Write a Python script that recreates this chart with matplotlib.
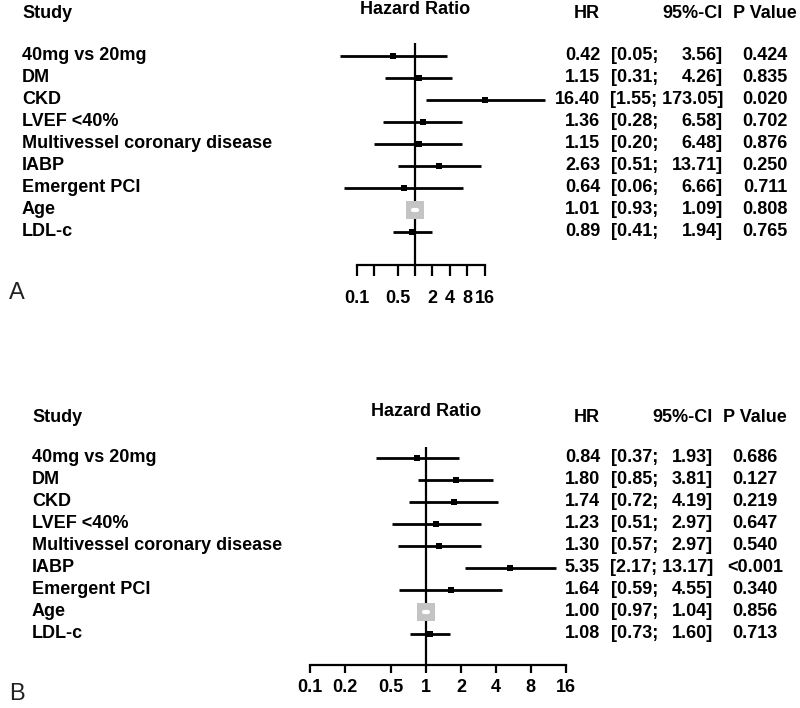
"""
Two forest plots (panel A / panel B): hazard ratios with 95% CI and p values.
"""
import matplotlib
matplotlib.use("Agg")
import matplotlib.pyplot as plt
import matplotlib.transforms as mtrans
import numpy as np

plt.rcParams["font.family"] = ["Liberation Sans", "DejaVu Sans"]

STUDIES = [
    "40mg vs 20mg",
    "DM",
    "CKD",
    "LVEF <40%",
    "Multivessel coronary disease",
    "IABP",
    "Emergent PCI",
    "Age",
    "LDL-c",
]

# panel A
HR_A = [0.42, 1.15, 16.40, 1.36, 1.15, 2.63, 0.64, 1.01, 0.89]
LO_A = [0.05, 0.31, 1.55, 0.28, 0.20, 0.51, 0.06, 0.93, 0.41]
HI_A = [3.56, 4.26, 173.05, 6.58, 6.48, 13.71, 6.66, 1.09, 1.94]
P_A = ["0.424", "0.835", "0.020", "0.702", "0.876", "0.250", "0.711", "0.808", "0.765"]

# panel B
HR_B = [0.84, 1.80, 1.74, 1.23, 1.30, 5.35, 1.64, 1.00, 1.08]
LO_B = [0.37, 0.85, 0.72, 0.51, 0.57, 2.17, 0.59, 0.97, 0.73]
HI_B = [1.93, 3.81, 4.19, 2.97, 2.97, 13.17, 4.55, 1.04, 1.60]
P_B = ["0.686", "0.127", "0.219", "0.647", "0.540", "<0.001", "0.340", "0.856", "0.713"]

TICKS = [0.1, 0.2, 0.5, 1, 2, 4, 8, 16]
TICKLABELS_A = ["0.1", "", "0.5", "", "2", "4", "8", "16"]
TICKLABELS_B = ["0.1", "0.2", "0.5", "1", "2", "4", "8", "16"]

W, H = 800, 708
FS = 13
fig = plt.figure(figsize=(W / 100, H / 100), dpi=100)


def fx(px):
    return px / W


def fy(py):
    return 1 - py / H


def forest(hr, lo, hi, pvals, ticklabels, g):
    """g: pixel geometry of one panel."""
    ax = fig.add_axes([fx(g["x0"]), fy(g["axis_y"]), fx(g["x1"] - g["x0"]),
                       (g["axis_y"] - g["top"]) / H])
    ax.set_xscale("log")
    ppd = g["ppd"]
    ax.set_xlim(10 ** ((g["x0"] - g["one"]) / ppd), 10 ** ((g["x1"] - g["one"]) / ppd))
    n = len(hr)
    ax.set_ylim((g["axis_y"] - g["row0"]) / g["step"], (g["top"] - g["row0"]) / g["step"])
    ax.patch.set_visible(False)
    for s in ("top", "right", "left"):
        ax.spines[s].set_visible(False)
    ax.spines["bottom"].set_linewidth(1.6)
    ax.spines["bottom"].set_bounds(TICKS[0], TICKS[-1])
    ax.set_yticks([])
    ax.xaxis.set_minor_locator(matplotlib.ticker.NullLocator())
    ax.set_xticks(TICKS)
    ax.set_xticklabels(ticklabels, fontsize=FS, fontweight="bold")
    ax.tick_params(axis="x", length=g["ticklen"], width=1.6, pad=g["pad"])

    ax.axvline(1, color="black", lw=1.6, zorder=1)

    hr = np.asarray(hr)
    lo = np.asarray(lo)
    hi = np.asarray(hi)
    se = (np.log(hi) - np.log(lo)) / 3.92
    rel = np.sqrt((1 / se ** 2) / (1 / se ** 2).max())
    side_px = 5 + 13 * rel
    for i in range(n):
        ax.plot([lo[i], hi[i]], [i, i], color="black", lw=2.0,
                solid_capstyle="butt", zorder=2, clip_on=False)
        big = rel[i] > 0.5
        ax.plot(hr[i], i, marker="s", ms=side_px[i] * 0.72, mew=0,
                color="#c4c4c4" if big else "black", zorder=3, clip_on=False)
        if big:
            ax.plot([lo[i], hi[i]], [i, i], color="white", lw=3,
                    solid_capstyle="round", zorder=4)

    # text columns
    tr_row = mtrans.blended_transform_factory(fig.transFigure, ax.transData)
    bold = dict(fontsize=FS, fontweight="bold", va="center")
    yh = fy(g["head_y"])
    fig.text(fx(g["lab_x"]), yh, "Study", ha="left", **bold)
    fig.text(fx(g["hr_x"]), yh, "HR", ha="right", **bold)
    fig.text(fx(g["ci_x"]), yh, "95%-CI", ha="right", **bold)
    fig.text(fx(g["p_x"]), yh, "P Value", ha="center", **bold)
    tr_hr = mtrans.blended_transform_factory(ax.transData, fig.transFigure)
    ax.text(1, fy(g["title_y"]), "Hazard Ratio", transform=tr_hr, ha="center", **bold)
    hi_str = [f"{v:.2f}" for v in hi]
    widest = max(len(s) for s in hi_str)
    for i in range(n):
        ax.text(fx(g["lab_x"]), i, STUDIES[i], transform=tr_row, ha="left", **bold)
        ax.text(fx(g["hr_x"]), i, f"{hr[i]:.2f}", transform=tr_row, ha="right", **bold)
        if len(hi_str[i]) == widest:
            ax.text(fx(g["ci_x"]), i, f"[{lo[i]:.2f}; {hi_str[i]}]", transform=tr_row,
                    ha="right", **bold)
        else:
            ax.text(fx(g["lo_x"]), i, f"[{lo[i]:.2f};", transform=tr_row, ha="right", **bold)
            ax.text(fx(g["ci_x"]), i, f"{hi_str[i]}]", transform=tr_row, ha="right", **bold)
        ax.text(fx(g["p_x"]), i, pvals[i], transform=tr_row, ha="center", **bold)
    fig.text(fx(g["tag_x"]), fy(g["tag_y"]), g["tag"], fontsize=17, ha="left",
             va="center", color="#222222")
    return ax


geo_a = dict(x0=300, x1=548, one=415, ppd=58, top=43, axis_y=265, row0=56, step=22,
             ticklen=8, pad=10, head_y=13, title_y=9, lab_x=22, hr_x=600, lo_x=658,
             ci_x=723, p_x=765, tag="A", tag_x=9, tag_y=293)
geo_b = dict(x0=300, x1=570, one=426, ppd=116, top=447, axis_y=665, row0=458, step=22,
             ticklen=6, pad=4, head_y=417, title_y=412, lab_x=32, hr_x=600, lo_x=658,
             ci_x=713, p_x=755, tag="B", tag_x=9, tag_y=694)

forest(HR_A, LO_A, HI_A, P_A, TICKLABELS_A, geo_a)
forest(HR_B, LO_B, HI_B, P_B, TICKLABELS_B, geo_b)

fig.savefig("out.png", dpi=100)
plt.close(fig)
